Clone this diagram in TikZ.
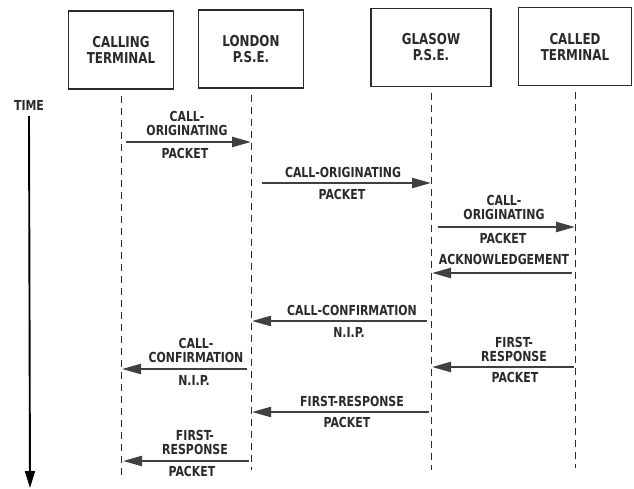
\documentclass[tikz,border=0pt]{standalone}
\usepackage{fontspec}
\setmainfont{DejaVu Sans Condensed}[FakeStretch=0.88]
\usetikzlibrary{arrows.meta}

\definecolor{inkgray}{HTML}{2A2A2A}
\definecolor{arrowgray}{HTML}{404040}

\begin{document}
\begin{tikzpicture}[
    x=1pt, y=-1pt,
    box/.style={draw=inkgray, line width=1.3pt, inner sep=0pt,
                minimum width=105pt, minimum height=78pt,
                align=center, text=inkgray,
                font=\fontsize{15}{16}\selectfont\bfseries},
    life/.style={draw=inkgray, line width=1pt, dash pattern=on 7pt off 5pt},
    msg/.style={draw=arrowgray, line width=2.2pt,
                -{Triangle[length=19pt, width=10pt]}},
    timearr/.style={draw=black, line width=1.9pt,
                    -{Triangle[length=17pt, width=10pt]}},
    toplbl/.style={anchor=south, inner sep=0pt, align=center, text=inkgray,
                   font=\fontsize{13.8}{13.8}\selectfont\bfseries},
    botlbl/.style={toplbl, anchor=north},
]
\useasboundingbox (0,0) rectangle (634,489);

% Terminals and exchanges
\node[box] (calling) at (121,50) {CALLING\\TERMINAL};
\node[box] (london) at (251,49) {LONDON\\P.S.E.};
\node[box, minimum width=120pt] (glasgow) at (431,47.5) {GLASOW\\P.S.E.};
\node[box, minimum width=113pt] (called) at (575,46.5) {CALLED\\TERMINAL};

% Lifelines
\coordinate (callingend) at (121,478);
\coordinate (londonend) at (251,470);
\coordinate (glasgowend) at (431,470);
\coordinate (calledend) at (575,468);
\draw[life] ([yshift=-6pt]calling.south) -- (callingend);
\draw[life] ([yshift=-6pt]london.south) -- (londonend);
\draw[life] ([yshift=-6pt]glasgow.south) -- (glasgowend);
\draw[life] ([yshift=-6pt]called.south) -- (calledend);

% Time axis
\node[toplbl, anchor=center] (time) at (29,105) {TIME};
\coordinate (timeend) at (30,488);
\draw[timearr] ([yshift=-6pt]time.south) -- (timeend);

% Calling -> London
\coordinate (m1s) at (126,142);
\coordinate (m1e) at (251,142);
\draw[msg] (m1s) -- (m1e);
\node[toplbl] (m1t) at (187,136) {CALL-\\ORIGINATING};
\node[botlbl] (m1b) at (185,148) {PACKET};

% London -> Glasgow
\coordinate (m2s) at (262,183);
\coordinate (m2e) at (431,183);
\draw[msg] (m2s) -- (m2e);
\node[toplbl] (m2t) at (343,178) {CALL-ORIGINATING};
\node[botlbl] (m2b) at (342,189) {PACKET};

% Glasgow -> Called
\coordinate (m3s) at (438,227);
\coordinate (m3e) at (575,227);
\draw[msg] (m3s) -- (m3e);
\node[toplbl] (m3t) at (504,220) {CALL-\\ORIGINATING};
\node[botlbl] (m3b) at (503,233) {PACKET};

% Called -> Glasgow
\coordinate (m4s) at (572,273);
\coordinate (m4e) at (432,273);
\draw[msg] (m4s) -- (m4e);
\node[toplbl] (m4t) at (504,265) {ACKNOWLEDGEMENT};

% Glasgow -> London
\coordinate (m5s) at (427,321);
\coordinate (m5e) at (252,321);
\draw[msg] (m5s) -- (m5e);
\node[toplbl] (m5t) at (352,316) {CALL-CONFIRMATION};
\node[botlbl] (m5b) at (349,327) {N.I.P.};

% Called -> Glasgow
\coordinate (m6s) at (574,367);
\coordinate (m6e) at (432,367);
\draw[msg] (m6s) -- (m6e);
\node[toplbl] (m6t) at (514,362) {FIRST-\\RESPONSE};
\node[botlbl] (m6b) at (515,372) {PACKET};

% London -> Calling
\coordinate (m7s) at (247,369);
\coordinate (m7e) at (122,369);
\draw[msg] (m7s) -- (m7e);
\node[toplbl] (m7t) at (196,363) {CALL-\\CONFIRMATION};
\node[botlbl] (m7b) at (194,375) {N.I.P.};

% Glasgow -> London
\coordinate (m8s) at (429,412);
\coordinate (m8e) at (252,412);
\draw[msg] (m8s) -- (m8e);
\node[toplbl] (m8t) at (352,407) {FIRST-RESPONSE};
\node[botlbl] (m8b) at (347,417) {PACKET};

% London -> Calling
\coordinate (m9s) at (249,461);
\coordinate (m9e) at (123,461);
\draw[msg] (m9s) -- (m9e);
\node[toplbl] (m9t) at (195,455) {FIRST-\\RESPONSE};
\node[botlbl] (m9b) at (192,466) {PACKET};

\end{tikzpicture}
\end{document}
